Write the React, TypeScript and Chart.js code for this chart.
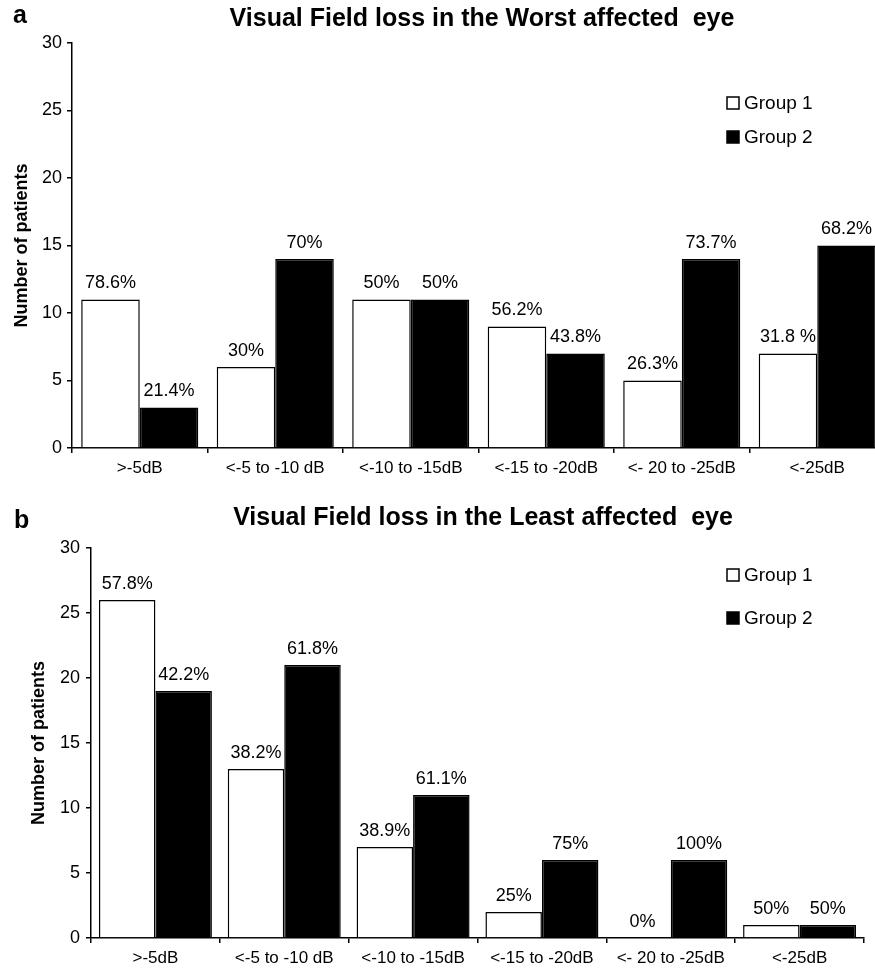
import React, { useEffect, useRef } from "react";
import { Chart, registerables } from "chart.js";
Chart.register(...registerables);

const FONT = '"Liberation Sans", Arial, Helvetica, sans-serif';

const categories = [">-5dB", "<-5 to -10 dB", "<-10 to -15dB", "<-15 to -20dB", "<- 20 to -25dB", "<-25dB"];
const seriesNames = ["Group 1", "Group 2"];
const yTicks = [0, 5, 10, 15, 20, 25, 30];

const worstGroup1 = [11, 6, 11, 9, 5, 7];
const worstGroup2 = [3, 14, 11, 7, 14, 15];
const worstLabels1 = ["78.6%", "30%", "50%", "56.2%", "26.3%", "31.8 %"];
const worstLabels2 = ["21.4%", "70%", "50%", "43.8%", "73.7%", "68.2%"];

const leastGroup1 = [26, 13, 7, 2, 0, 1];
const leastGroup2 = [19, 21, 11, 6, 6, 1];
const leastLabels1 = ["57.8%", "38.2%", "38.9%", "25%", "0%", "50%"];
const leastLabels2 = ["42.2%", "61.8%", "61.1%", "75%", "100%", "50%"];

type Cfg = {
  width: number;
  height: number;
  letter: string;
  letterX: number;
  letterY: number;
  title: string;
  titleX: number;
  titleY: number;
  yTitle: string;
  yTitleX: number;
  legendX: number;
  legendY: number[];
  padTop: number;
  padRight: number;
  yWidth: number;
  xHeight: number;
  yTickPad: number;
  catPct: number;
  g1: number[];
  g2: number[];
  labels: string[][];
};

function makeChart(canvas: HTMLCanvasElement, c: Cfg) {
  const decor = {
    id: "decor",
    afterDraw(chart: any) {
      const ctx = chart.ctx as CanvasRenderingContext2D;
      ctx.save();
      ctx.fillStyle = "#000";
      ctx.strokeStyle = "#000";
      ctx.font = `bold 25px ${FONT}`;
      ctx.textBaseline = "alphabetic";
      ctx.textAlign = "left";
      ctx.fillText(c.letter, c.letterX, c.letterY);
      ctx.textAlign = "center";
      ctx.fillText(c.title, c.titleX, c.titleY);

      // y title
      ctx.save();
      ctx.translate(c.yTitleX, (chart.chartArea.top + chart.chartArea.bottom) / 2);
      ctx.rotate(-Math.PI / 2);
      ctx.font = `bold 18px ${FONT}`;
      ctx.textBaseline = "middle";
      ctx.textAlign = "center";
      ctx.fillText(c.yTitle, 0, 0);
      ctx.restore();

      // data labels
      ctx.font = `18px ${FONT}`;
      ctx.textBaseline = "middle";
      ctx.textAlign = "center";
      chart.data.datasets.forEach((_ds: any, i: number) => {
        const meta = chart.getDatasetMeta(i);
        meta.data.forEach((el: any, j: number) => {
          ctx.fillText(c.labels[i][j], el.x, el.y - 16);
        });
      });

      // legend
      ctx.font = `19px ${FONT}`;
      ctx.textAlign = "left";
      ctx.textBaseline = "middle";
      seriesNames.forEach((name, i) => {
        const y = c.legendY[i];
        if (i === 0) {
          ctx.fillStyle = "#fff";
          ctx.fillRect(c.legendX, y - 6, 12, 12);
          ctx.lineWidth = 1.5;
          ctx.strokeRect(c.legendX, y - 6, 12, 12);
        } else {
          ctx.fillStyle = "#000";
          ctx.fillRect(c.legendX - 0.75, y - 6.75, 13.5, 13.5);
        }
        ctx.fillStyle = "#000";
        ctx.fillText(name, c.legendX + 17, y + 1);
      });
      ctx.restore();
    },
  };

  const xTickFont = { family: FONT, size: 17 };
  const yTickFont = { family: FONT, size: 18 };

  return new Chart(canvas, {
    type: "bar",
    data: {
      labels: categories,
      datasets: [
        {
          label: seriesNames[0],
          data: c.g1,
          backgroundColor: "#fff",
          borderColor: "#000",
          borderWidth: 1.5,
          categoryPercentage: c.catPct,
          barPercentage: 1,
        },
        {
          label: seriesNames[1],
          data: c.g2,
          backgroundColor: "#000",
          borderColor: "#000",
          borderWidth: 1.5,
          categoryPercentage: c.catPct,
          barPercentage: 1,
        },
      ],
    },
    options: {
      animation: false,
      responsive: false,
      maintainAspectRatio: false,
      devicePixelRatio: 1,
      layout: { padding: { left: 0, right: c.padRight, top: c.padTop, bottom: 0 } },
      plugins: {
        legend: { display: false },
        tooltip: { enabled: false },
        title: { display: false },
      },
      scales: {
        x: {
          offset: true,
          grid: {
            display: true,
            drawOnChartArea: false,
            drawTicks: true,
            tickLength: 5,
            color: "#000",
            lineWidth: 1.5,
            offset: true,
          },
          border: { display: true, color: "#000", width: 1.5 },
          ticks: { color: "#000", font: xTickFont, padding: 5, maxRotation: 0, autoSkip: false },
          afterFit: (s: any) => {
            s.height = c.xHeight;
          },
        },
        y: {
          min: 0,
          max: 30,
          afterBuildTicks: (s: any) => {
            s.ticks = yTicks.map((v) => ({ value: v }));
          },
          grid: {
            display: true,
            drawOnChartArea: false,
            drawTicks: true,
            tickLength: 5,
            color: "#000",
            lineWidth: 1.5,
          },
          border: { display: true, color: "#000", width: 1.5 },
          ticks: { color: "#000", font: yTickFont, padding: c.yTickPad },
          afterFit: (s: any) => {
            s.width = c.yWidth;
          },
        },
      },
    } as any,
    plugins: [decor as any],
  });
}

const cfgA: Cfg = {
  width: 890,
  height: 475,
  letter: "a",
  letterX: 13,
  letterY: 23,
  title: "Visual Field loss in the Worst affected  eye",
  titleX: 482,
  titleY: 26,
  yTitle: "Number of patients",
  yTitleX: 22,
  legendX: 727,
  legendY: [103, 137],
  padTop: 43,
  padRight: 5,
  yWidth: 72,
  xHeight: 27,
  yTickPad: 5,
  catPct: 0.864,
  g1: worstGroup1,
  g2: worstGroup2,
  labels: [worstLabels1, worstLabels2],
};

const cfgB: Cfg = {
  width: 875,
  height: 493,
  letter: "b",
  letterX: 14,
  letterY: 53,
  title: "Visual Field loss in the Least affected  eye",
  titleX: 483,
  titleY: 50,
  yTitle: "Number of patients",
  yTitleX: 39,
  legendX: 727,
  legendY: [100, 143],
  padTop: 73,
  padRight: 11,
  yWidth: 91,
  xHeight: 30,
  yTickPad: 6,
  catPct: 0.877,
  g1: leastGroup1,
  g2: leastGroup2,
  labels: [leastLabels1, leastLabels2],
};

function ChartCanvas({ cfg, top }: { cfg: Cfg; top: number }) {
  const ref = useRef<HTMLCanvasElement | null>(null);
  useEffect(() => {
    if (!ref.current) return;
    const ch = makeChart(ref.current, cfg);
    return () => ch.destroy();
  }, [cfg]);
  return (
    <canvas
      ref={ref}
      width={cfg.width}
      height={cfg.height}
      style={{ position: "absolute", left: 0, top, width: cfg.width, height: cfg.height, display: "block" }}
    />
  );
}

export default function App() {
  return (
    <div
      style={{
        position: "absolute",
        left: 0,
        top: 0,
        width: 875,
        height: 968,
        overflow: "hidden",
        background: "#fff",
      }}
    >
      <ChartCanvas cfg={cfgA} top={0} />
      <ChartCanvas cfg={cfgB} top={475} />
    </div>
  );
}
